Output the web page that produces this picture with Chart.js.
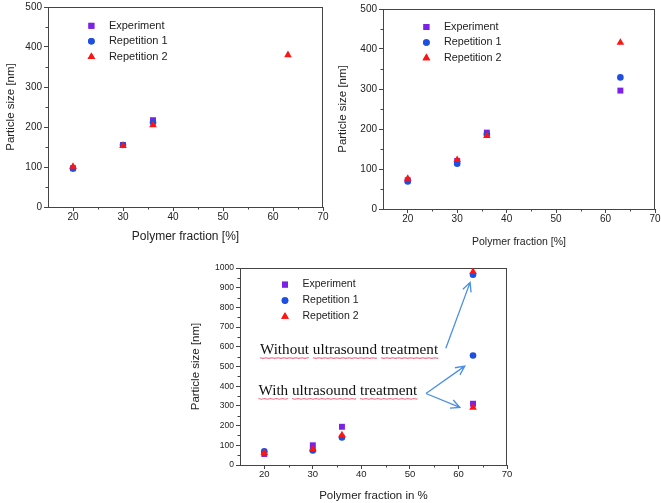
<!DOCTYPE html>
<html>
<head>
<meta charset="utf-8">
<script src="https://cdn.jsdelivr.net/npm/chart.js@4.4.1/dist/chart.umd.min.js"></script>
<style>
  html, body { margin: 0; padding: 0; background: #fff; }
  body { width: 661px; height: 503px; position: relative; overflow: hidden; }
  canvas { position: absolute; }
  #chart1 { left: 0; top: 0; }
  #chart2 { left: 330px; top: 0; }
  #chart3 { left: 190px; top: 250px; }
</style>
</head>
<body>
<canvas id="chart1" width="330" height="250"></canvas>
<canvas id="chart2" width="331" height="250"></canvas>
<canvas id="chart3" width="340" height="253"></canvas>
<script>
const seriesNames = ["Experiment", "Repetition 1", "Repetition 2"];

// top left panel
const fracA = [20, 30, 36, 63];
const expA = [97, 155, 217];
const rep1A = [96, 155, 211];
const rep2A = [101, 153, 205, 380];

// top right panel
const fracB = [20, 30, 36, 63];
const expB = [72, 120, 191, 296];
const rep1B = [69, 113, 187, 329];
const rep2B = [76, 123, 183, 416];

// bottom panel (last point of each repetition = without ultrasound)
const fracC = [20, 30, 36, 63, 63];
const expC = [56, 100, 194, 311];
const rep1C = [69, 74, 140, 556, 966];
const rep2C = [62, 81, 152, 292, 981];

const xTicks = [20, 30, 40, 50, 60, 70];
const xMinor = [25, 35, 45, 55, 65];
const yTicks500 = [0, 100, 200, 300, 400, 500];
const yMinor500 = [50, 150, 250, 350, 450];
const yTicks1000 = [0, 100, 200, 300, 400, 500, 600, 700, 800, 900, 1000];
const yMinor1000 = [50, 150, 250, 350, 450, 550, 650, 750, 850, 950];

const colors = ["#7b22e6", "#1f4fe0", "#ff1414"];
const shapes = ["rect", "circle", "triangle"];
const radii = [4.2, 3.3, 4.4];
const FONT = "'Liberation Sans', Arial, sans-serif";

function pts(xs, ys) {
    return ys.map((y, i) => ({ x: xs[i], y: y }));
}

function drawMarker(ctx, i, x, y) {
    Chart.helpers.drawPoint(ctx, {
        pointStyle: shapes[i], radius: radii[i], rotation: 0, borderWidth: 0
    }, x, y);
    ctx.fill();
}

// frame round the plot area + short minor ticks
const framePlugin = {
    id: "frame",
    beforeDatasetsDraw(chart, args, opts) {
        const { ctx, chartArea: a, scales } = chart;
        ctx.save();
        ctx.strokeStyle = "#444";
        ctx.lineWidth = 1;
        ctx.strokeRect(Math.round(a.left) + 0.5, Math.round(a.top) + 0.5,
            Math.round(a.right - a.left) - 1, Math.round(a.bottom - a.top));
        ctx.beginPath();
        opts.xMinor.forEach(v => {
            const px = Math.round(scales.x.getPixelForValue(v)) + 0.5;
            ctx.moveTo(px, a.bottom);
            ctx.lineTo(px, a.bottom + 2.5);
        });
        opts.yMinor.forEach(v => {
            const py = Math.round(scales.y.getPixelForValue(v)) + 0.5;
            ctx.moveTo(a.left, py);
            ctx.lineTo(a.left - 2.5, py);
        });
        ctx.stroke();
        ctx.restore();
    }
};

// legend inside the plot, top left
const legendPlugin = {
    id: "insideLegend",
    afterDatasetsDraw(chart, args, opts) {
        const { ctx, chartArea: a } = chart;
        ctx.save();
        ctx.font = opts.size + "px " + FONT;
        ctx.textBaseline = "middle";
        seriesNames.forEach((name, i) => {
            const y = a.top + opts.dy + i * opts.gap;
            const x = a.left + opts.dx;
            ctx.fillStyle = colors[i];
            drawMarker(ctx, i, x, y);
            ctx.fillStyle = "#222";
            ctx.fillText(name, x + 17.5, y);
        });
        ctx.restore();
    }
};

function squiggle(ctx, x0, x1, y) {
    ctx.beginPath();
    let k = 0;
    for (let x = x0; x <= x1; x += 3, k++) {
        const yy = y + (k % 2 ? 0.6 : 0);
        if (k === 0) ctx.moveTo(x, yy); else ctx.lineTo(x, yy);
    }
    ctx.lineTo(x1, y);
    ctx.stroke();
}

function arrow(ctx, x0, y0, x1, y1) {
    const ang = Math.atan2(y1 - y0, x1 - x0);
    const len = 10, spread = 0.45;
    ctx.beginPath();
    ctx.moveTo(x0, y0);
    ctx.lineTo(x1, y1);
    ctx.moveTo(x1 - len * Math.cos(ang - spread), y1 - len * Math.sin(ang - spread));
    ctx.lineTo(x1, y1);
    ctx.lineTo(x1 - len * Math.cos(ang + spread), y1 - len * Math.sin(ang + spread));
    ctx.stroke();
}

// text notes and arrows, placed in data units
const notesPlugin = {
    id: "notes",
    afterDatasetsDraw(chart, args, opts) {
        if (!opts.texts) return;
        const { ctx, scales: { x, y } } = chart;
        ctx.save();
        ctx.font = "15.2px 'Liberation Serif', 'Times New Roman', serif";
        ctx.textBaseline = "alphabetic";
        const space = ctx.measureText(" ").width;
        opts.texts.forEach(t => {
            let px = x.getPixelForValue(t.x);
            const py = y.getPixelForValue(t.y);
            t.text.split(" ").forEach(word => {
                const w = ctx.measureText(word).width;
                ctx.fillStyle = "#111";
                ctx.fillText(word, px, py);
                ctx.strokeStyle = "#f0708a";
                ctx.lineWidth = 1.1;
                squiggle(ctx, px, px + w, py + 3.5);
                px += w + space;
            });
        });
        ctx.strokeStyle = "#4a8fe4";
        ctx.lineWidth = 1.3;
        opts.arrows.forEach(ar => {
            arrow(ctx, x.getPixelForValue(ar[0]), y.getPixelForValue(ar[1]),
                x.getPixelForValue(ar[2]), y.getPixelForValue(ar[3]));
        });
        ctx.restore();
    }
};

function makeChart(id, c) {
    const series = [pts(c.xs, c.exp), pts(c.xs, c.rep1), pts(c.xs, c.rep2)];
    return new Chart(document.getElementById(id), {
        type: "scatter",
        data: {
            datasets: series.map((d, i) => ({
                label: seriesNames[i],
                data: d,
                pointStyle: shapes[i],
                pointRadius: radii[i],
                pointBackgroundColor: colors[i],
                pointBorderWidth: 0,
                order: 3 - i
            }))
        },
        plugins: [framePlugin, legendPlugin, notesPlugin],
        options: {
            responsive: false,
            animation: false,
            events: [],
            layout: { padding: { top: c.pad[0], right: c.pad[1], left: 0, bottom: 0 } },
            plugins: {
                legend: { display: false },
                tooltip: { enabled: false },
                frame: { xMinor: xMinor, yMinor: c.yMinor },
                insideLegend: c.legend,
                notes: c.notes || {}
            },
            scales: {
                x: {
                    type: "linear",
                    min: 15,
                    max: 70,
                    afterBuildTicks: s => { s.ticks = xTicks.map(v => ({ value: v })); },
                    afterFit: s => { s.height = c.xHeight; },
                    border: { display: false },
                    grid: { drawOnChartArea: false, drawTicks: true, tickLength: 4, color: "#444" },
                    ticks: {
                        padding: 0, color: "#222", maxRotation: 0,
                        font: { family: FONT, size: c.tickSize },
                        callback: v => String(v)
                    },
                    title: {
                        display: true, text: c.xTitle, color: "#222",
                        font: { family: FONT, size: c.xTitleSize },
                        padding: { top: 0, bottom: c.xTitlePad }
                    }
                },
                y: {
                    type: "linear",
                    min: 0,
                    max: c.yMax,
                    afterBuildTicks: s => { s.ticks = c.yTicks.map(v => ({ value: v })); },
                    afterFit: s => { s.width = c.yWidth; },
                    border: { display: false },
                    grid: { drawOnChartArea: false, drawTicks: true, tickLength: 4, color: "#444" },
                    ticks: {
                        padding: 2, color: "#222",
                        font: { family: FONT, size: c.yTickSize || c.tickSize, lineHeight: 1 },
                        callback: v => String(v)
                    },
                    title: {
                        display: true, text: "Particle size [nm]", color: "#222",
                        font: { family: FONT, size: c.yTitleSize, lineHeight: 1 },
                        padding: { top: c.yTitlePad, bottom: 0 }
                    }
                }
            }
        }
    });
}

makeChart("chart1", {
    xs: fracA, exp: expA, rep1: rep1A, rep2: rep2A,
    yMax: 500, yTicks: yTicks500, yMinor: yMinor500,
    pad: [5, 7], yWidth: 48, xHeight: 43,
    tickSize: 10, xTitle: "Polymer fraction [%]", xTitleSize: 12, xTitlePad: 6,
    yTitleSize: 11.5, yTitlePad: 5.5,
    legend: { dx: 43.4, dy: 18.8, gap: 15.5, size: 11 }
});

makeChart("chart2", {
    xs: fracB, exp: expB, rep1: rep1B, rep2: rep2B,
    yMax: 500, yTicks: yTicks500, yMinor: yMinor500,
    pad: [9, 6], yWidth: 53, xHeight: 41,
    tickSize: 10, xTitle: "Polymer fraction [%]", xTitleSize: 10.5, xTitlePad: 1.5,
    yTitleSize: 11.5, yTitlePad: 7,
    legend: { dx: 43.4, dy: 18, gap: 15.5, size: 10.8 }
});

makeChart("chart3", {
    xs: fracC, exp: expC, rep1: rep1C, rep2: rep2C,
    yMax: 1000, yTicks: yTicks1000, yMinor: yMinor1000,
    pad: [18, 23], yWidth: 50, xHeight: 38,
    tickSize: 9.5, yTickSize: 8.5, xTitle: "Polymer fraction in %", xTitleSize: 11.5, xTitlePad: 0,
    yTitleSize: 11.5, yTitlePad: 0,
    legend: { dx: 45, dy: 16.6, gap: 16, size: 10.5 },
    notes: {
        texts: [
            { text: "Without ultrasound treatment", x: 19.1, y: 562 },
            { text: "With ultrasound treatment", x: 18.8, y: 355 }
        ],
        arrows: [
            [57.4, 593, 62.4, 927],
            [53.3, 363, 61.3, 502],
            [53.3, 363, 60.3, 292]
        ]
    }
});
</script>
</body>
</html>
